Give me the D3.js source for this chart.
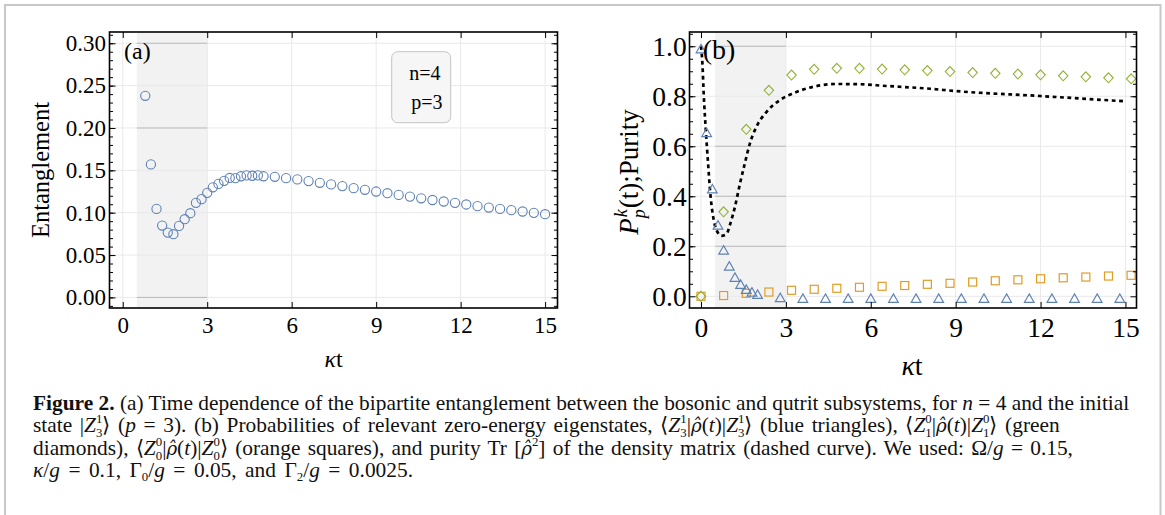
<!DOCTYPE html>
<html>
<head>
<meta charset="utf-8">
<script src="https://cdn.jsdelivr.net/npm/d3@7"></script>
<style>
  body { margin: 0; background: #fff; }
  svg { display: block; }
</style>
</head>
<body>
<div id="fig"></div>
<script>
// ---- data ----
// (a) entanglement, open circles
var entT = [0.8, 1.0, 1.2, 1.4, 1.6, 1.8, 2.0, 2.2, 2.4, 2.6, 2.8, 3.0, 3.2, 3.4, 3.6, 3.8, 4.0, 4.2, 4.4, 4.6, 4.8, 5.0,
            5.4, 5.8, 6.2, 6.6, 7.0, 7.4, 7.8, 8.2, 8.6, 9.0, 9.4, 9.8, 10.2, 10.6, 11.0, 11.4, 11.8, 12.2, 12.6, 13.0,
            13.4, 13.8, 14.2, 14.6, 15.0];
var entVal = [0.238, 0.157, 0.1045, 0.0848, 0.0765, 0.0746, 0.0844, 0.0923, 0.0994, 0.1116, 0.116, 0.1234, 0.130, 0.134,
              0.1376, 0.141, 0.1408, 0.143, 0.144, 0.1436, 0.144, 0.143,
              0.1424, 0.1408, 0.1393, 0.1373, 0.1353, 0.1334, 0.1314, 0.129, 0.127, 0.125, 0.123, 0.121, 0.119, 0.117,
              0.115, 0.1132, 0.1116, 0.1097, 0.1077, 0.1061, 0.1045, 0.103, 0.1014, 0.0998, 0.0982];

// (b) blue triangles  <Z31|rho|Z31>
var triT = [0, 0.2, 0.4, 0.6, 0.8, 1.0, 1.2, 1.4, 1.6, 1.8, 2.0, 2.8, 3.6, 4.4, 5.2, 6.0, 6.8, 7.6, 8.4, 9.2, 10.0,
            10.8, 11.6, 12.4, 13.2, 14.0, 14.8];
var triVal = [0.99, 0.655, 0.43, 0.285, 0.185, 0.121, 0.076, 0.048, 0.028, 0.017, 0.008, -0.005, -0.008, -0.008, -0.008,
              -0.008, -0.008, -0.008, -0.008, -0.008, -0.008, -0.008, -0.008, -0.008, -0.008, -0.008, -0.008];

// (b) green diamonds and orange squares share the same times
var diaT = [0, 0.8, 1.6, 2.4, 3.2, 4.0, 4.8, 5.6, 6.4, 7.2, 8.0, 8.8, 9.6, 10.4, 11.2, 12.0, 12.8, 13.6, 14.4, 15.2];
var diaVal = [0.0, 0.338, 0.668, 0.824, 0.885, 0.908, 0.912, 0.912, 0.909, 0.906, 0.903, 0.899, 0.895, 0.892, 0.889,
              0.886, 0.882, 0.878, 0.874, 0.870];
var sqVal = [0.0, 0.003, 0.012, 0.017, 0.024, 0.028, 0.032, 0.036, 0.040, 0.043, 0.048, 0.052, 0.057, 0.062, 0.066,
             0.070, 0.074, 0.077, 0.081, 0.084];

// (b) purity, dotted curve
var purT = [0, 0.05, 0.1, 0.17, 0.25, 0.34, 0.43, 0.55, 0.72, 0.9, 1.04, 1.2, 1.38, 1.55, 1.73, 1.96, 2.32, 2.79, 3.26,
            3.97, 4.79, 5.62, 6.56, 7.03, 8.1, 8.97, 11.98, 14.95];
var purVal = [1.0, 0.932, 0.80, 0.665, 0.532, 0.398, 0.318, 0.265, 0.242, 0.249, 0.292, 0.358, 0.452, 0.532, 0.612,
              0.678, 0.738, 0.785, 0.812, 0.838, 0.849, 0.848, 0.841, 0.838, 0.830, 0.821, 0.801, 0.780];

var shadeT = [0.5, 3];
var xTicks = [0, 3, 6, 9, 12, 15];
var xLabels = ["0", "3", "6", "9", "12", "15"];
var yTicksA = [0, 0.05, 0.10, 0.15, 0.20, 0.25, 0.30];
var yLabelsA = ["0.00", "0.05", "0.10", "0.15", "0.20", "0.25", "0.30"];
var yTicksB = [0, 0.2, 0.4, 0.6, 0.8, 1.0];
var yLabelsB = ["0.0", "0.2", "0.4", "0.6", "0.8", "1.0"];

var blue = "#5e81b5", green = "#8fb032", orange = "#e19c24";
var serif = "Liberation Serif";

var svg = d3.select("#fig").append("svg")
    .attr("width", 1165)
    .attr("height", 515)
    .style("font-family", serif);

// light frame round the whole figure (bottom edge is cut off)
svg.append("rect")
    .attr("x", 5).attr("y", 5)
    .attr("width", 1155.5).attr("height", 540)
    .attr("fill", "none")
    .attr("stroke", "#c8c8c8")
    .attr("stroke-width", 2);

function makePanel(cfg) {
  var g = svg.append("g").attr("transform", "translate(" + cfg.left + "," + cfg.top + ")");
  var x = d3.scaleLinear().domain(cfg.xdom).range([0, cfg.w]);
  var y = d3.scaleLinear().domain(cfg.ydom).range([cfg.h, 0]);

  // shaded time window
  g.append("rect")
      .attr("x", x(shadeT[0])).attr("y", 0)
      .attr("width", x(shadeT[1]) - x(shadeT[0])).attr("height", cfg.h)
      .attr("fill", "#f2f2f2");

  // grid
  g.append("g").selectAll("line").data(xTicks).enter().append("line")
      .attr("x1", function(d) { return x(d); }).attr("x2", function(d) { return x(d); })
      .attr("y1", 0).attr("y2", cfg.h)
      .attr("stroke", "#e9e9e9").attr("stroke-width", 1);
  g.append("g").selectAll("line").data(cfg.yTicks).enter().append("line")
      .attr("x1", 0).attr("x2", cfg.w)
      .attr("y1", function(d) { return y(d); }).attr("y2", function(d) { return y(d); })
      .attr("stroke", "#e9e9e9").attr("stroke-width", 1);
  // darker grid pieces inside the shaded window
  g.append("g").selectAll("line").data(cfg.darkGrid).enter().append("line")
      .attr("x1", x(shadeT[0])).attr("x2", x(shadeT[1]))
      .attr("y1", function(d) { return y(d); }).attr("y2", function(d) { return y(d); })
      .attr("stroke", "#b9b9b9").attr("stroke-width", 1);

  return { g: g, x: x, y: y, w: cfg.w, h: cfg.h };
}

function drawAxes(p, cfg) {
  var g = p.g;
  var left = g.append("g")
      .call(d3.axisLeft(p.y).tickValues(cfg.yTicks).tickSize(-6).tickPadding(cfg.padY)
        .tickFormat(function(d, i) { return cfg.yLabels[i]; }));
  left.attr("font-family", serif).attr("font-size", cfg.fs);
  g.append("g").call(d3.axisLeft(p.y).tickValues(cfg.yMinor).tickSize(-3.5).tickFormat(""));
  g.append("g").attr("transform", "translate(" + p.w + ",0)")
      .call(d3.axisRight(p.y).tickValues(cfg.yTicks).tickSize(-6).tickFormat(""));
  g.append("g").attr("transform", "translate(" + p.w + ",0)")
      .call(d3.axisRight(p.y).tickValues(cfg.yMinor).tickSize(-3.5).tickFormat(""));
  var bottom = g.append("g").attr("transform", "translate(0," + p.h + ")")
      .call(d3.axisBottom(p.x).tickValues(xTicks).tickSize(-6).tickPadding(cfg.padX)
        .tickFormat(function(d, i) { return xLabels[i]; }));
  bottom.attr("font-family", serif).attr("font-size", cfg.fs);
  g.append("g").call(d3.axisTop(p.x).tickValues(xTicks).tickSize(-6).tickFormat(""));

  g.selectAll(".domain").remove();
  g.selectAll(".tick line").attr("stroke", "#000").attr("stroke-width", 1);
  g.selectAll(".tick text").attr("fill", "#000");

  // frame
  g.append("rect")
      .attr("width", p.w).attr("height", p.h)
      .attr("fill", "none").attr("stroke", "#000").attr("stroke-width", 1.6);
}

// ---------------- panel (a) ----------------
var pa = makePanel({
  left: 109.5, top: 32, w: 448, h: 276,
  xdom: [-0.47, 15.44], ydom: [-0.0125, 0.3133],
  yTicks: yTicksA, darkGrid: [0, 0.2, 0.3]
});

pa.g.append("g").selectAll("circle")
    .data(entT.map(function(t, i) { return { t: t, v: entVal[i] }; }))
    .enter().append("circle")
    .attr("cx", function(d) { return pa.x(d.t); })
    .attr("cy", function(d) { return pa.y(d.v); })
    .attr("r", 4.6)
    .attr("fill", "none")
    .attr("stroke", blue)
    .attr("stroke-width", 1.1);

drawAxes(pa, {
  yTicks: yTicksA, yLabels: yLabelsA, yMinor: d3.range(-0.01, 0.315, 0.01),
  fs: 23, padY: 3.5, padX: 9
});

pa.g.append("text").attr("x", 14.5).attr("y", 26.5).attr("font-size", 24).text("(a)");

// n / p box
var box = pa.g.append("g");
box.append("rect")
    .attr("x", 282.2).attr("y", 19.7).attr("width", 59).attr("height", 71)
    .attr("rx", 6).attr("fill", "#f6f6f6").attr("stroke", "#c4c4c4").attr("stroke-width", 1);
box.append("text").attr("x", 331).attr("y", 47.5).attr("text-anchor", "end").attr("font-size", 20).text("n=4");
box.append("text").attr("x", 333).attr("y", 76.5).attr("text-anchor", "end").attr("font-size", 20).text("p=3");

// axis titles (a)
svg.append("text")
    .attr("transform", "translate(49,170) rotate(-90)")
    .attr("text-anchor", "middle").attr("font-size", 24.5)
    .text("Entanglement");
var kta = svg.append("text").attr("x", 333.5).attr("y", 367).attr("text-anchor", "middle").attr("font-size", 24);
kta.append("tspan").attr("font-style", "italic").text("κ");
kta.append("tspan").text("t");

// ---------------- panel (b) ----------------
var pb = makePanel({
  left: 689.5, top: 32, w: 447, h: 276,
  xdom: [-0.406, 15.39], ydom: [-0.0468, 1.057],
  yTicks: yTicksB, darkGrid: [0.2, 0.4, 0.6, 1.0]
});

// purity curve
pb.g.append("path")
    .datum(purT.map(function(t, i) { return { t: t, v: purVal[i] }; }))
    .attr("fill", "none")
    .attr("stroke", "#000")
    .attr("stroke-width", 2.7)
    .attr("stroke-dasharray", "3.8,3.6")
    .attr("d", d3.line()
      .curve(d3.curveMonotoneX)
      .x(function(d) { return pb.x(d.t); })
      .y(function(d) { return pb.y(d.v); }));

// orange squares
pb.g.append("g").selectAll("rect")
    .data(diaT.map(function(t, i) { return { t: t, v: sqVal[i] }; }))
    .enter().append("rect")
    .attr("x", function(d) { return pb.x(d.t) - 4; })
    .attr("y", function(d) { return pb.y(d.v) - 4; })
    .attr("width", 8).attr("height", 8)
    .attr("fill", "none").attr("stroke", orange).attr("stroke-width", 1.2);

// green diamonds
pb.g.append("g").selectAll("path")
    .data(diaT.map(function(t, i) { return { t: t, v: diaVal[i] }; }))
    .enter().append("path")
    .attr("transform", function(d) { return "translate(" + pb.x(d.t) + "," + pb.y(d.v) + ")"; })
    .attr("d", "M0,-5L4.7,0L0,5L-4.7,0Z")
    .attr("fill", "none").attr("stroke", green).attr("stroke-width", 1.1);

// blue triangles
pb.g.append("g").selectAll("path")
    .data(triT.map(function(t, i) { return { t: t, v: triVal[i] }; }))
    .enter().append("path")
    .attr("transform", function(d) { return "translate(" + pb.x(d.t) + "," + pb.y(d.v) + ")"; })
    .attr("d", "M0,-4.4L4.9,4.1L-4.9,4.1Z")
    .attr("fill", "none").attr("stroke", blue).attr("stroke-width", 1.1);

drawAxes(pb, {
  yTicks: yTicksB, yLabels: yLabelsB, yMinor: d3.range(0.05, 1.06, 0.05),
  fs: 27.5, padY: 2.8, padX: 9.5
});

pb.g.append("text").attr("x", 13.2).attr("y", 27).attr("font-size", 28).text("(b)");

// axis titles (b)
var ylb = svg.append("text")
    .attr("transform", "translate(638,172) rotate(-90)")
    .attr("text-anchor", "middle").attr("font-size", 27);
ylb.append("tspan").attr("font-style", "italic").text("P");
ylb.append("tspan").attr("font-style", "italic").attr("font-size", 18).attr("dx", 1).attr("dy", -11).text("k");
ylb.append("tspan").attr("font-style", "italic").attr("font-size", 18).attr("dx", -9).attr("dy", 18).text("p");
ylb.append("tspan").attr("dx", 1).attr("dy", -7).text("(t);Purity");

var ktb = svg.append("text").attr("x", 912).attr("y", 375).attr("text-anchor", "middle").attr("font-size", 28);
ktb.append("tspan").attr("font-style", "italic").text("κ");
ktb.append("tspan").text("t");

// ---------------- caption ----------------
var capLines = [
  [{ s: "Figure 2.", b: 1 }, { s: " (a) Time dependence of the bipartite entanglement between the bosonic and qutrit subsystems, for " },
   { s: "n", i: 1 }, { s: " = 4 and the initial" }],
  [{ s: "state |" }, { z: "Z", up: "1", dn: "3" }, { s: "⟩ (" }, { s: "p", i: 1 }, { s: " = 3). (b) Probabilities of relevant zero-energy eigenstates, ⟨" },
   { z: "Z", up: "1", dn: "3" }, { s: "|" }, { rho: 1 }, { s: "(" }, { s: "t", i: 1 }, { s: ")|" }, { z: "Z", up: "1", dn: "3" },
   { s: "⟩ (blue triangles), ⟨" }, { z: "Z", up: "0", dn: "1" }, { s: "|" }, { rho: 1 }, { s: "(" }, { s: "t", i: 1 }, { s: ")|" },
   { z: "Z", up: "0", dn: "1" }, { s: "⟩ (green" }],
  [{ s: "diamonds), ⟨" }, { z: "Z", up: "0", dn: "0" }, { s: "|" }, { rho: 1 }, { s: "(" }, { s: "t", i: 1 }, { s: ")|" }, { z: "Z", up: "0", dn: "0" },
   { s: "⟩ (orange squares), and purity Tr [" }, { rho: 1 }, { sup: "2" }, { s: "] of the density matrix (dashed curve). We used: Ω/" },
   { s: "g", i: 1 }, { s: " = 0.15," }],
  [{ s: "κ", i: 1 }, { s: "/" }, { s: "g", i: 1 }, { s: " = 0.1, Γ" }, { sub: "0" }, { s: "/" }, { s: "g", i: 1 },
   { s: " = 0.05, and Γ" }, { sub: "2" }, { s: "/" }, { s: "g", i: 1 }, { s: " = 0.0025." }]
];
var capX = 33, capY = [409.5, 432, 454.5, 477];
var capEnd = [1130, 1060, 1073, 413];   // right end of each caption line

function richLine(el, segs, fs) {
  var shift = 0;
  segs.forEach(function(s) {
    if (s.z) {
      el.append("tspan").attr("dy", -shift).attr("font-style", "italic").text(s.z);
      el.append("tspan").attr("font-size", fs * 0.6).attr("dy", -0.4 * fs).text(s.up);
      el.append("tspan").attr("font-size", fs * 0.6).attr("dx", -0.3 * fs).attr("dy", 0.64 * fs).text(s.dn);
      shift = 0.24 * fs;
    } else if (s.rho) {
      el.append("tspan").attr("dy", -shift).attr("font-family", "DejaVu Serif").attr("font-size", fs * 0.85)
        .attr("font-style", "italic").text("ρ̂");
      shift = 0;
    } else if (s.sup) {
      el.append("tspan").attr("font-size", fs * 0.6).attr("dy", -0.4 * fs - shift).text(s.sup);
      shift = -0.4 * fs;
    } else if (s.sub) {
      el.append("tspan").attr("font-size", fs * 0.6).attr("dy", 0.2 * fs - shift).text(s.sub);
      shift = 0.2 * fs;
    } else {
      var t = el.append("tspan").attr("dy", -shift).text(s.s);
      if (s.i) t.attr("font-style", "italic");
      if (s.b) t.attr("font-weight", "bold");
      shift = 0;
    }
  });
}

var cap = svg.append("g");
function drawCaption(fs) {
  cap.selectAll("*").remove();
  capLines.forEach(function(segs, i) {
    var el = cap.append("text").attr("x", capX).attr("y", capY[i]).attr("font-size", fs).attr("fill", "#111");
    richLine(el, segs, fs);
  });
}
function lineEnd(node) { var b = node.getBBox(); return b.x + b.width; }

drawCaption(18);
var fsCap = 18 * (capEnd[0] - capX) / (lineEnd(cap.select("text").node()) - capX);
drawCaption(fsCap);
// stretch the ragged lines by word spacing so each ends where the reference line ends
cap.selectAll("text").each(function(d, i) {
  if (i === 0) return;
  var el = d3.select(this);
  var spaces = (el.text().match(/ /g) || []).length;
  var gap = capEnd[i] - lineEnd(this);
  if (spaces > 0) el.attr("word-spacing", gap / spaces);
});
</script>
</body>
</html>
